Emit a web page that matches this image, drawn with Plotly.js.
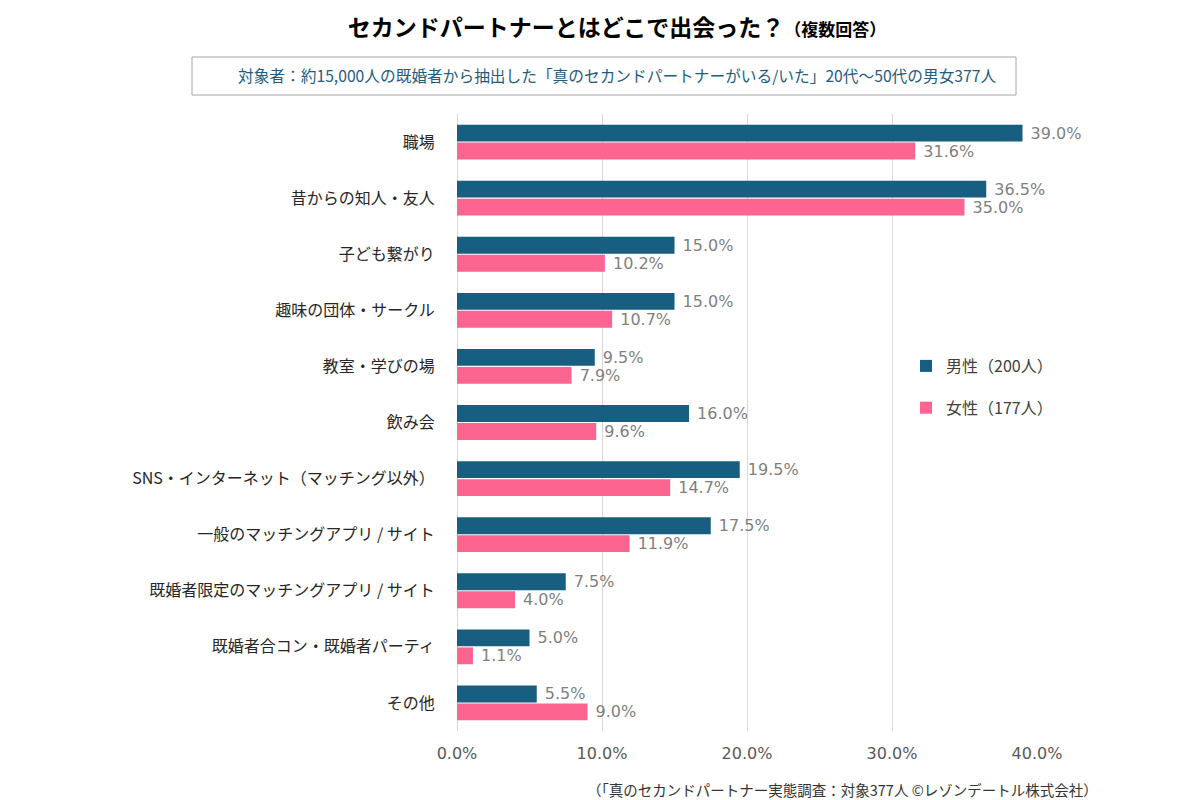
<!DOCTYPE html>
<html>
<head>
<meta charset="utf-8">
<script src="https://cdn.plot.ly/plotly-3.0.1.min.js"></script>
<style>html,body{margin:0;padding:0;background:#fff;}#chart{width:1200px;height:800px;}</style>
</head>
<body>
<div id="chart"></div>
<script>
const categories = [
  "職場",
  "昔からの知人・友人",
  "子ども繋がり",
  "趣味の団体・サークル",
  "教室・学びの場",
  "飲み会",
  "SNS・インターネット（マッチング以外）",
  "一般のマッチングアプリ / サイト",
  "既婚者限定のマッチングアプリ / サイト",
  "既婚者合コン・既婚者パーティ",
  "その他"
];
const maleValues = [39.0, 36.5, 15.0, 15.0, 9.5, 16.0, 19.5, 17.5, 7.5, 5.0, 5.5];
const femaleValues = [31.6, 35.0, 10.2, 10.7, 7.9, 9.6, 14.7, 11.9, 4.0, 1.1, 9.0];
const seriesNames = ["男性（200人）", "女性（177人）"];
const tickValues = [0, 10, 20, 30, 40];

const FONT = "'Noto Sans CJK JP', 'Noto Sans', sans-serif";
const NUMFONT = "'DejaVu Sans', 'Noto Sans CJK JP', sans-serif";
const L = 457, R = 1037, T = 114, B = 731;
const px = v => (v - L) / (R - L);
const py = v => (B - v) / (B - T);

const common = {
  type: 'bar', orientation: 'h', y: categories,
  textposition: 'outside', cliponaxis: false, constraintext: 'none',
  texttemplate: '\u00a0%{x:.1f}%',
  textfont: {family: NUMFONT, size: 16, color: '#7f7f7f'},
  hoverinfo: 'skip'
};
const data = [
  Object.assign({}, common, {x: maleValues, name: seriesNames[0], legendgroup: 'm',
    marker: {color: '#175E80'}}),
  Object.assign({}, common, {x: femaleValues, name: seriesNames[1], legendgroup: 'f',
    marker: {color: '#FD6591'}})
];

const layout = {
  width: 1200, height: 800,
  margin: {l: L, r: 1200 - R, t: T, b: 800 - B},
  paper_bgcolor: '#fff', plot_bgcolor: '#fff',
  font: {family: FONT, color: '#262626'},
  barmode: 'group', bargap: 0.36, bargroupgap: 0.06,
  showlegend: true,
  legend: {x: px(906), y: py(349), xanchor: 'left', yanchor: 'top',
    bgcolor: '#fff', font: {family: FONT, size: 16, color: '#404040'},
    traceorder: 'grouped', tracegroupgap: 18, itemwidth: 30},
  xaxis: {range: [0, 40], tickvals: tickValues, ticktext: tickValues.map(v => v.toFixed(1) + '%'),
    showgrid: true, gridcolor: '#d9d9d9', gridwidth: 1, zeroline: true, zerolinecolor: '#d9d9d9',
    showline: false, ticks: 'outside', ticklen: 8, tickcolor: 'rgba(0,0,0,0)',
    tickfont: {family: NUMFONT, size: 16, color: '#595959'}, fixedrange: true},
  yaxis: {autorange: 'reversed', showgrid: false, zeroline: false, showline: false,
    ticks: 'outside', ticklen: 18, tickcolor: 'rgba(0,0,0,0)',
    tickfont: {family: FONT, size: 16, color: '#262626'}},
  title: {text: '<b>セカンドパートナーとはどこで出会った？</b><b><span style="font-size:17px">（複数回答）</span></b>',
    x: 617 / 1200, xref: 'container', xanchor: 'center', y: 1 - 28 / 800, yanchor: 'middle', yref: 'container',
    font: {family: FONT, size: 23, color: '#000'}},
  shapes: [
    {type: 'rect', xref: 'paper', yref: 'paper', x0: px(192), x1: px(1016), y0: py(95), y1: py(57),
      line: {color: '#a6a6a6', width: 1}, fillcolor: 'rgba(0,0,0,0)'}
  ],
  annotations: [
    {xref: 'paper', yref: 'paper', x: px(617), y: py(76), xanchor: 'center', yanchor: 'middle',
      text: '対象者：約15,000人の既婚者から抽出した「真のセカンドパートナーがいる/いた」20代～50代の男女377人',
      showarrow: false, font: {family: FONT, size: 15.7, color: '#1F5C80'}},
    {xref: 'paper', yref: 'paper', x: px(1100), y: py(789), xanchor: 'right', yanchor: 'middle',
      text: '（「真のセカンドパートナー実態調査：対象377人 ©レゾンデートル株式会社）',
      showarrow: false, font: {family: FONT, size: 14.5, color: '#333'}}
  ]
};
Plotly.newPlot('chart', data, layout, {displayModeBar: false, staticPlot: true});
</script>
</body>
</html>
